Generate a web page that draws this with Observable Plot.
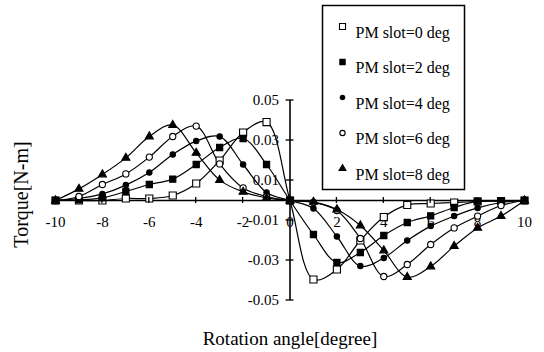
<!DOCTYPE html>
<html>
<head>
<meta charset="utf-8">
<script src="https://cdn.jsdelivr.net/npm/d3@7"></script>
<script src="https://cdn.jsdelivr.net/npm/@observablehq/plot@0.6"></script>
<style>
  body { margin: 0; background: #fff; }
  #chart svg { display: block; }
</style>
</head>
<body>
<div id="chart"></div>
<script>
// ---- Data ----
const angles = [-10, -9, -8, -7, -6, -5, -4, -3, -2, -1, 0, 1, 2, 3, 4, 5, 6, 7, 8, 9, 10];
const slot0 = [0, 0, 0, 0.001, 0.001, 0.0025, 0.0085, 0.020, 0.034, 0.0392, 0, -0.0395, -0.0345, -0.020, -0.0083, -0.0022, -0.0015, -0.001, -0.0005, -0.0003, 0];
const slot2 = [0, 0.0003, 0.0013, 0.0045, 0.008, 0.0107, 0.018, 0.0265, 0.031, 0.018, 0, -0.017, -0.031, -0.026, -0.0175, -0.011, -0.0077, -0.0035, -0.0003, -0.0003, 0];
const slot4 = [0, 0.001, 0.0033, 0.0077, 0.014, 0.023, 0.0297, 0.032, 0.018, 0.004, 0, -0.004, -0.018, -0.0328, -0.0287, -0.020, -0.0128, -0.0078, -0.0037, -0.001, 0];
const slot6 = [0, 0.002, 0.008, 0.0133, 0.0217, 0.032, 0.0372, 0.0183, 0.0063, 0.002, 0, -0.001, -0.005, -0.019, -0.038, -0.032, -0.022, -0.0137, -0.0078, -0.0025, 0];
const slot8 = [0, 0.0058, 0.013, 0.0213, 0.032, 0.0377, 0.0238, 0.0102, 0.0043, 0.0013, 0, -0.0007, -0.0045, -0.0125, -0.025, -0.0383, -0.033, -0.0228, -0.0137, -0.0078, 0];
const seriesNames = ["PM slot=0 deg", "PM slot=2 deg", "PM slot=4 deg", "PM slot=6 deg", "PM slot=8 deg"];
const xTicks = [-10, -8, -6, -4, -2, 0, 2, 4, 6, 8, 10];
const xTickLabels = ["-10", "-8", "-6", "-4", "-2", "0", "2", "4", "6", "8", "10"];
const yTicks = [0.05, 0.03, 0.01, -0.01, -0.03, -0.05];
const yTickLabels = ["0.05", "0.03", "0.01", "-0.01", "-0.03", "-0.05"];
const xTitle = "Rotation angle[degree]";
const yTitle = "Torque[N-m]";

// ---- Styles ----
const seriesValues = [slot0, slot2, slot4, slot6, slot8];
const markerStyles = [
  {symbol: "square", fill: "white", r: 4.0},
  {symbol: "square", fill: "black", r: 3.5},
  {symbol: "circle", fill: "black", r: 2.7},
  {symbol: "circle", fill: "white", r: 3.1},
  {symbol: "triangle", fill: "black", r: 3.0}
];
const FONT = "'Liberation Serif', 'Times New Roman', serif";

const rows = seriesValues.flatMap((vals, i) =>
  vals.map((v, j) => ({angle: angles[j], torque: v, series: seriesNames[i], idx: i})));

const marks = [];

// axes lines
marks.push(Plot.ruleY([0], {x1: angles[0], x2: angles[angles.length - 1], stroke: "black", strokeWidth: 1.6}));
marks.push(Plot.ruleX([0], {y1: yTicks[yTicks.length - 1], y2: yTicks[0], stroke: "black", strokeWidth: 1.6}));

// tick labels (drawn under the curves)
marks.push(Plot.text(xTicks, {x: d => d, y: 0, dy: 22, text: (d, i) => xTickLabels[i], fontSize: 15, fill: "black"}));
marks.push(Plot.text(yTicks, {x: 0, y: d => d, dx: -11, textAnchor: "end", text: (d, i) => yTickLabels[i], fontSize: 15, fill: "black"}));

// curves
seriesNames.forEach((name, i) => {
  marks.push(Plot.line(rows.filter(r => r.idx === i), {x: "angle", y: "torque", curve: "catmull-rom", stroke: "black", strokeWidth: 1.2}));
});
// markers
seriesNames.forEach((name, i) => {
  const s = markerStyles[i];
  marks.push(Plot.dot(rows.filter(r => r.idx === i), {x: "angle", y: "torque", symbol: s.symbol, r: s.r, fill: s.fill, stroke: "black", strokeWidth: 1.1}));
});

// axis titles
marks.push(Plot.text([xTitle], {x: 0, y: yTicks[yTicks.length - 1], dy: 38, text: d => d, fontSize: 19, fill: "black"}));
marks.push(Plot.text([yTitle], {x: angles[0], y: 0, dx: -34, dy: -6, rotate: -90, text: d => d, fontSize: 20, fill: "black"}));

// legend box
marks.push(() => {
  const r = d3.create("svg:rect")
    .attr("x", 322.5).attr("y", 5.5).attr("width", 142).attr("height", 184)
    .attr("fill", "white").attr("stroke", "black").attr("stroke-width", 1.5);
  return r.node();
});
seriesNames.forEach((name, i) => {
  const s = markerStyles[i];
  const yy = 26 + 35.5 * i;
  marks.push(Plot.dot([name], {frameAnchor: "top-left", dx: 342, dy: yy, symbol: s.symbol, r: s.r * 0.85, fill: s.fill, stroke: "black", strokeWidth: 1.1}));
  marks.push(Plot.text([name], {frameAnchor: "top-left", dx: 355, dy: yy, text: d => d, textAnchor: "start", fontSize: 16, fill: "black"}));
});

const chart = Plot.plot({
  width: 544,
  height: 352,
  marginTop: 0, marginRight: 0, marginBottom: 0, marginLeft: 0,
  x: {domain: [angles[0], angles[angles.length - 1]], range: [55, 524], axis: null},
  y: {domain: [yTicks[yTicks.length - 1], yTicks[0]], range: [300, 100], axis: null},
  style: {fontFamily: FONT, fontSize: "15px", background: "white", color: "black"},
  marks
});

// small tick crosses on both axes, positioned through the plot's scales
const xs = chart.scale("x"), ys = chart.scale("y");
const svg = d3.select(chart);
const g = svg.append("g").attr("stroke", "black").attr("stroke-width", 1.3);
yTicks.forEach(v => {
  const py = ys.apply(v), px = xs.apply(0);
  g.append("line").attr("x1", px - 4).attr("x2", px + 4).attr("y1", py).attr("y2", py);
});
xTicks.filter(d => d !== 0 && Math.abs(d) !== 10).forEach(v => {
  const px = xs.apply(v), py = ys.apply(0);
  g.append("line").attr("x1", px).attr("x2", px).attr("y1", py - 3).attr("y2", py + 3);
});

document.getElementById("chart").appendChild(chart);
</script>
</body>
</html>
